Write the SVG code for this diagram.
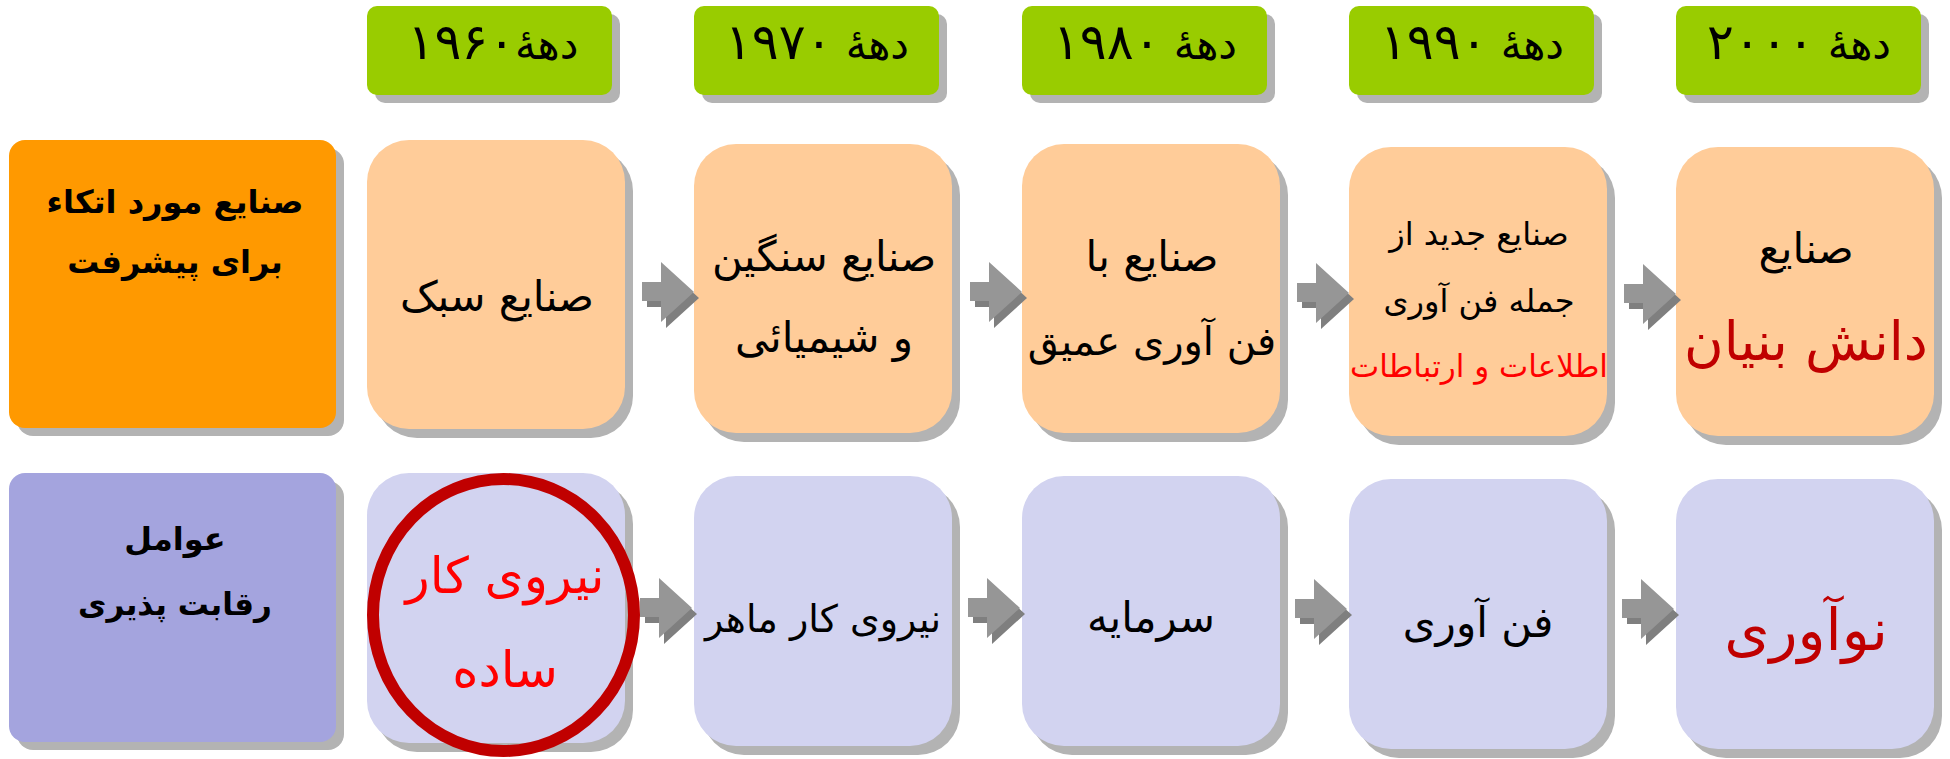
<svg xmlns="http://www.w3.org/2000/svg" width="1950" height="759" viewBox="0 0 1950 759">
<style>
.sh{fill:#b3b3b3}
.hdr{fill:#99cc00}
.lab1{fill:#ff9900}
.n1{fill:#ffcc99}
.lab2{fill:#a4a4de}
.n2{fill:#d2d3f0}
text{font-family:'DejaVu Sans',sans-serif;direction:rtl;text-anchor:middle;fill:#000}
.h{font-size:42px}
.b{font-weight:bold;font-size:32px}
.t{font-size:42px}
.s{font-size:32px}
.red{fill:#ff0000}
.dred{fill:#c00000}
.dig{letter-spacing:5px;font-size:50px}
</style>
<defs>
<g id="arr">
<path d="M0,-10H19V-30L52,0L19,30V9H0Z" transform="translate(5,6)" fill="#7f7f7f"/>
<path d="M0,-10H19V-30L52,0L19,30V9H0Z" fill="#969696"/>
</g>
</defs>
<rect width="1950" height="759" fill="#fff"/>
<g id="headers">
<g id="h1960"><rect class="sh" x="375" y="14" width="245" height="89" rx="10"/><rect class="hdr" x="367" y="6" width="245" height="89" rx="10"/><text class="h" x="493" y="59">دهۀ<tspan class="dig">۱۹۶۰</tspan></text></g>
<g id="h1970"><rect class="sh" x="702" y="14" width="245" height="89" rx="10"/><rect class="hdr" x="694" y="6" width="245" height="89" rx="10"/><text class="h" x="817" y="59">دهۀ <tspan class="dig">۱۹۷۰</tspan></text></g>
<g id="h1980"><rect class="sh" x="1030" y="14" width="245" height="89" rx="10"/><rect class="hdr" x="1022" y="6" width="245" height="89" rx="10"/><text class="h" x="1145" y="59">دهۀ <tspan class="dig">۱۹۸۰</tspan></text></g>
<g id="h1990"><rect class="sh" x="1357" y="14" width="245" height="89" rx="10"/><rect class="hdr" x="1349" y="6" width="245" height="89" rx="10"/><text class="h" x="1472" y="59">دهۀ <tspan class="dig">۱۹۹۰</tspan></text></g>
<g id="h2000"><rect class="sh" x="1684" y="14" width="245" height="89" rx="10"/><rect class="hdr" x="1676" y="6" width="245" height="89" rx="10"/><text class="h" x="1799" y="59">دهۀ <tspan class="dig">۲۰۰۰</tspan></text></g>
</g>
<g id="row1">
<g id="label1"><rect class="sh" x="17" y="148" width="327" height="288" rx="16"/><rect class="lab1" x="9" y="140" width="327" height="288" rx="16"/><text class="b" x="175" y="213">صنایع مورد اتکاء</text><text class="b" x="175" y="273">برای پیشرفت</text></g>
<g id="n1960a"><rect class="sh" x="375" y="149" width="258" height="289" rx="42"/><rect class="n1" x="367" y="140" width="258" height="289" rx="42"/><text class="t" x="497" y="311">صنایع سبک</text></g>
<g id="n1970a"><rect class="sh" x="702" y="153" width="258" height="289" rx="42"/><rect class="n1" x="694" y="144" width="258" height="289" rx="42"/><text class="t" x="824" y="271">صنایع سنگین</text><text class="t" x="824" y="352">و شیمیائی</text></g>
<g id="n1980a"><rect class="sh" x="1030" y="153" width="258" height="289" rx="42"/><rect class="n1" x="1022" y="144" width="258" height="289" rx="42"/><text class="t" x="1152" y="271">صنایع با</text><text class="t" style="font-size:40px" x="1152" y="355">فن آوری عمیق</text></g>
<g id="n1990a"><rect class="sh" x="1357" y="156" width="258" height="289" rx="42"/><rect class="n1" x="1349" y="147" width="258" height="289" rx="42"/><text class="s" x="1479" y="245">صنایع جدید از</text><text class="s" x="1479" y="312">جمله فن آوری</text><text class="s red" style="font-size:31px" x="1479" y="377">اطلاعات و ارتباطات</text></g>
<g id="n2000a"><rect class="sh" x="1684" y="156" width="258" height="289" rx="42"/><rect class="n1" x="1676" y="147" width="258" height="289" rx="42"/><text class="t" x="1806" y="263">صنایع</text><text class="dred" style="font-size:54px" x="1806" y="360">دانش بنیان</text></g>
</g>
<g id="row2">
<g id="label2"><rect class="sh" x="17" y="481" width="327" height="269" rx="16"/><rect class="lab2" x="9" y="473" width="327" height="269" rx="16"/><text class="b" x="175" y="550">عوامل</text><text class="b" style="font-size:31px" x="175" y="615">رقابت پذیری</text></g>
<g id="n1960b"><rect class="sh" x="375" y="482" width="258" height="270" rx="42"/><rect class="n2" x="367" y="473" width="258" height="270" rx="42"/><text class="red" style="font-size:50px" x="505" y="593">نیروی کار</text><text class="red" style="font-size:50px" x="505" y="687">ساده</text><ellipse cx="503.5" cy="615" rx="130.5" ry="136" fill="none" stroke="#c00000" stroke-width="12"/></g>
<g id="n1970b"><rect class="sh" x="702" y="485" width="258" height="270" rx="42"/><rect class="n2" x="694" y="476" width="258" height="270" rx="42"/><text class="t" style="font-size:38px" x="823" y="632">نیروی کار ماهر</text></g>
<g id="n1980b"><rect class="sh" x="1030" y="485" width="258" height="270" rx="42"/><rect class="n2" x="1022" y="476" width="258" height="270" rx="42"/><text class="t" x="1151" y="632">سرمایه</text></g>
<g id="n1990b"><rect class="sh" x="1357" y="488" width="258" height="270" rx="42"/><rect class="n2" x="1349" y="479" width="258" height="270" rx="42"/><text class="t" x="1478" y="637">فن آوری</text></g>
<g id="n2000b"><rect class="sh" x="1684" y="488" width="258" height="270" rx="42"/><rect class="n2" x="1676" y="479" width="258" height="270" rx="42"/><text class="dred" style="font-size:58px" x="1806" y="650">نوآوری</text></g>
</g>
<g id="connectors">
<use href="#arr" x="642" y="292"/>
<use href="#arr" x="970" y="292"/>
<use href="#arr" x="1297" y="293"/>
<use href="#arr" x="1624" y="294"/>
<use href="#arr" x="640" y="608"/>
<use href="#arr" x="968" y="608"/>
<use href="#arr" x="1295" y="609"/>
<use href="#arr" x="1622" y="609"/>
</g>
</svg>
